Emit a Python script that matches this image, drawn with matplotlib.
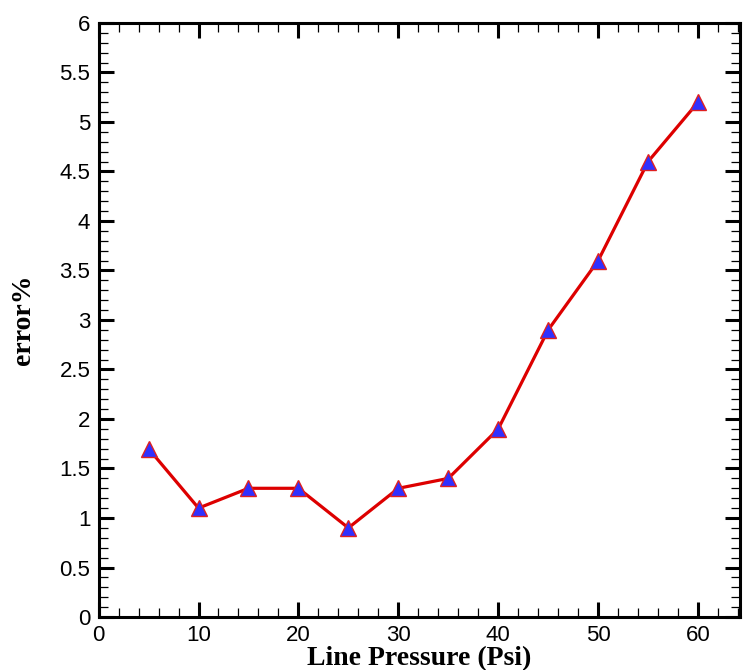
import matplotlib
matplotlib.use("Agg")
import matplotlib.pyplot as plt
from matplotlib.ticker import MultipleLocator

pressure = [5, 10, 15, 20, 25, 30, 35, 40, 45, 50, 55, 60]
error_pct = [1.7, 1.1, 1.3, 1.3, 0.9, 1.3, 1.4, 1.9, 2.9, 3.6, 4.6, 5.2]
xticks = [0, 10, 20, 30, 40, 50, 60]
yticks = [0, 0.5, 1, 1.5, 2, 2.5, 3, 3.5, 4, 4.5, 5, 5.5, 6]
yticklabels = ["0", "0.5", "1", "1.5", "2", "2.5", "3", "3.5", "4", "4.5", "5", "5.5", "6"]

fig = plt.figure(figsize=(7.43, 6.70), dpi=100)
ax = fig.add_axes([0.1327, 0.0791, 0.8633, 0.8866])

ax.plot(pressure, error_pct, color="#dd0000", linewidth=2.3,
        marker="^", markersize=12, markerfacecolor="#3030ff",
        markeredgecolor="#e02020", markeredgewidth=1.0, zorder=3)

ax.set_xlim(0, 64.2)
ax.set_ylim(0, 6)
ax.set_xticks(xticks)
ax.set_xticklabels([str(v) for v in xticks])
ax.set_yticks(yticks)
ax.set_yticklabels(yticklabels)
ax.xaxis.set_minor_locator(MultipleLocator(2))
ax.yaxis.set_minor_locator(MultipleLocator(0.1))

for s in ax.spines.values():
    s.set_linewidth(2.2)

ax.tick_params(which="major", direction="in", length=11, width=2.2,
               top=True, right=True, labelsize=16, pad=6)
ax.tick_params(which="minor", direction="in", length=6.5, width=0.9,
               top=True, right=True)
for lab in ax.get_xticklabels() + ax.get_yticklabels():
    lab.set_family("Liberation Sans")

ax.set_xlabel("Line Pressure (Psi)", family="Liberation Serif",
              fontweight="bold", fontsize=20, labelpad=0)
ax.set_ylabel("error%", family="Liberation Serif",
              fontweight="bold", fontsize=20, labelpad=17)

fig.savefig("out.png", dpi=100)
